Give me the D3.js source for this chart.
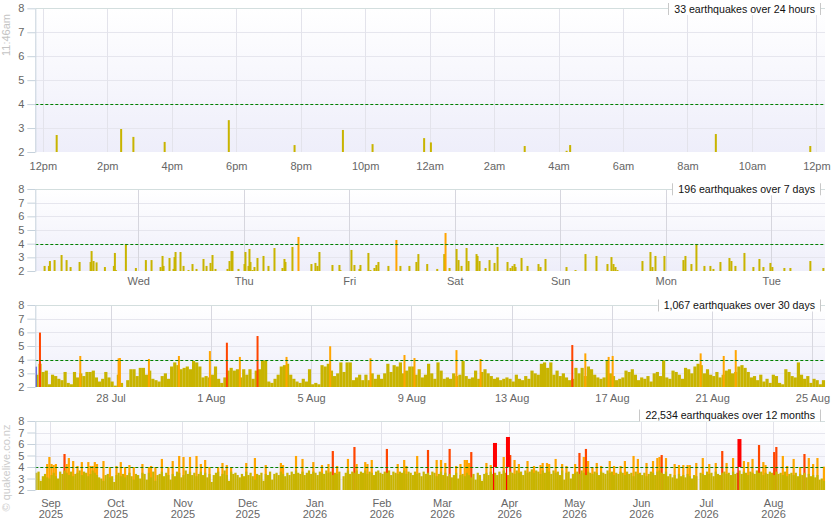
<!DOCTYPE html>
<html><head><meta charset="utf-8">
<script src="https://cdn.jsdelivr.net/npm/d3@7/dist/d3.min.js"></script>
<style>
html,body{margin:0;padding:0;background:#fff;}
svg text{font-family:"Liberation Sans",Arial,Helvetica,sans-serif;}
</style></head><body>
<svg id="chart" width="835" height="530"></svg>
<script>
// ================= DATA =================
const panelTitles=["33 earthquakes over 24 hours","196 earthquakes over 7 days","1,067 earthquakes over 30 days","22,534 earthquakes over 12 months"];
const nowLabel="11:46am";
const creditLabel="\u00a9 quakelive.co.nz";
const magTicks=[2,3,4,5,6,7,8];

// 24 hours (hours after 12:00 on 24 Aug 2026)
const dayTickLabels=["12pm","2pm","4pm","6pm","8pm","10pm","12am","2am","4am","6am","8am","10am","12pm"];
const dayQuakeHours=[0.43,2.43,2.81,3.78,5.77,7.81,9.31,10.23,11.83,12.04,14.95,16.25,16.36,20.88,23.81];
const dayQuakeMags=[2.71,2.96,2.63,2.42,3.33,2.29,2.92,2.33,2.58,2.40,2.25,2.05,2.29,2.75,2.25];

// 7 days (hours after 00:00 on 18 Aug 2026)
const weekTickLabels=["Wed","Thu","Fri","Sat","Sun","Mon","Tue"];
const weekQuakeHours=[2.70,3.68,3.91,4.97,6.56,7.70,8.61,10.66,13.16,13.39,13.84,14.52,16.42,18.46,18.69,18.92,21.19,23.47,25.74,27.03,29.08,29.53,29.76,31.12,32.03,32.26,32.49,33.62,34.31,35.44,36.35,37.26,38.85,39.54,40.45,40.90,41.58,44.31,44.77,45.22,45.45,46.81,48.18,48.40,49.09,49.31,49.54,50.00,50.45,51.13,52.50,53.63,55.00,56.82,57.27,57.50,59.09,60.46,63.41,64.32,64.78,65.23,68.19,69.78,70.01,72.51,73.19,74.33,74.56,76.37,76.83,77.74,78.19,78.65,80.92,82.74,83.65,85.70,87.29,87.74,
89.75,92.03,93.62,93.92,94.83,96.43,96.88,97.56,98.70,99.15,100.97,101.20,101.66,103.02,103.93,105.07,105.75,108.02,108.70,109.16,109.61,109.84,111.21,112.57,115.07,115.53,116.66,121.44,123.49,125.76,128.26,130.76,131.67,132.13,132.58,133.04,138.72,140.54,141.00,141.68,143.72,148.04,148.50,149.86,151.00,152.82,154.18,154.87,156.46,158.51,158.96,159.87,161.92,163.96,165.33,166.24,167.83,168.28,171.01,172.38,176.92,179.88];
const weekQuakeMags=[2.37,2.37,2.73,2.80,3.17,2.80,2.29,2.66,2.66,3.46,2.73,2.63,2.29,2.37,3.32,2.07,3.98,2.22,2.80,2.80,2.29,3.10,2.37,2.95,2.15,3.02,3.39,3.39,2.37,2.07,2.51,2.15,2.88,2.37,2.59,3.17,2.15,2.15,2.73,3.46,3.46,2.15,2.51,3.39,2.37,3.61,2.66,2.07,2.29,2.95,3.10,2.37,3.68,2.22,2.88,2.66,3.76,4.49,2.51,2.59,2.37,3.39,2.44,2.44,2.07,3.54,2.44,2.15,2.44,3.32,2.07,2.22,2.44,2.66,2.37,4.27,2.37,2.37,2.66,3.24,
2.51,2.15,3.24,4.78,2.22,3.61,2.80,2.37,3.68,2.73,3.24,3.10,2.73,2.22,2.80,2.59,3.76,2.66,2.22,2.37,2.51,2.29,2.95,2.37,2.51,2.29,2.88,2.29,2.07,3.24,3.10,2.51,3.02,2.51,2.29,2.07,2.73,3.39,2.29,3.10,3.10,2.80,3.10,2.51,3.98,2.37,2.37,2.15,2.66,2.95,2.73,2.37,3.32,2.29,2.88,2.29,2.59,2.29,2.22,2.22,2.73,2.22];

// 30 days: largest quake below M4 in each 3-hour block from 00:00 25 Jul 2026
const monthTickLabels=["28 Jul","1 Aug","5 Aug","9 Aug","13 Aug","17 Aug","21 Aug","25 Aug"];
const monthBinMags=[2.9,3.7,3.1,3.2,2.2,2.9,2.8,2.6,2.5,3.1,
2.3,2.2,3.1,2.7,3.0,2.8,3.1,3.1,3.2,2.7,
2.4,2.6,3.1,2.7,2.4,2.1,2.9,2.3,2.0,2.5,
3.3,3.3,2.8,3.4,3.4,2.9,3.2,2.6,2.5,2.4,
2.8,3.0,2.6,3.5,3.8,3.6,3.3,3.4,3.5,3.3,
3.9,3.8,3.5,2.7,2.8,2.7,2.9,3.5,2.6,2.3,
2.7,3.2,3.4,3.2,3.3,2.7,3.3,2.9,3.3,2.6,
3.2,3.3,3.95,3.95,2.4,2.3,2.6,2.9,3.5,3.6,
3.7,2.9,2.6,2.4,2.3,2.6,2.4,3.3,2.2,2.3,
2.2,3.6,3.5,3.7,3.2,2.8,3.0,3.8,3.1,3.8,
3.8,2.5,2.7,2.9,2.5,2.9,2.5,3.0,2.6,2.9,
2.6,3.0,3.7,3.1,3.6,3.5,3.8,3.0,3.2,3.5,
3.5,2.9,3.3,2.7,2.9,3.7,3.0,2.6,3.8,3.2,
2.6,2.7,2.6,3.0,2.8,2.9,3.9,2.8,2.6,2.7,
3.2,2.6,3.1,3.3,3.0,2.8,2.6,2.7,2.5,2.6,
2.7,2.6,2.4,2.9,2.6,2.5,2.8,2.6,3.2,3.0,
2.9,3.7,3.8,3.4,3.8,2.9,3.2,2.8,3.0,2.7,
2.5,2.6,3.4,3.0,3.4,2.8,3.5,3.3,2.9,2.7,
2.6,2.7,3.9,3.0,2.8,2.5,2.6,2.7,3.2,3.1,
3.3,2.9,2.5,2.7,2.6,2.8,2.4,3.0,3.1,2.8,
3.95,2.7,2.6,3.2,3.1,2.9,2.6,3.4,3.3,3.0,
3.5,3.7,3.6,3.0,3.3,2.9,2.8,3.1,2.7,2.9,
3.2,3.3,3.0,3.1,3.5,3.6,3.4,3.1,2.7,2.8,
2.5,2.9,2.4,2.6,2.3,2.9,2.8,2.3,2.2,3.3,
3.1,2.8,2.7,3.8,2.9,2.6,2.8,2.3,2.6,2.5,
2.2,2.5];
// 30 days: quakes of M4 and above (days after 00:00 25 Jul 2026)
const monthBigDays=[0.186,1.794,3.323,3.376,4.532,5.728,6.964,7.642,8.160,8.865,10.021,11.762,13.370,14.726,15.125,16.80,17.76,21.42,21.94,22.87,23.03,26.54,27.46,27.94];
const monthBigMags=[5.98,4.27,4.10,4.12,4.05,4.27,4.63,5.24,4.20,5.73,4.20,4.98,4.10,4.34,4.12,4.70,4.05,5.07,4.46,4.20,4.27,4.46,4.27,4.70];
const monthMarkDays=[0.0];
const monthMarkMags=[3.49];

// 12 months: largest quake below M4 each day from 25 Aug 2025 (null = no data)
const yearTickLabels=["Sep 2025","Oct 2025","Nov 2025","Dec 2025","Jan 2026","Feb 2026","Mar 2026","Apr 2026","May 2026","Jun 2026","Jul 2026","Aug 2026"];
const yearDailyMags=[3.5,3.6,2.8,3.2,3.4,3.1,3.0,3.3,3.5,3.2,
3.0,3.6,3.4,3.7,3.5,3.3,3.6,3.2,3.4,3.5,
3.7,3.3,3.6,3.5,3.2,3.4,3.7,3.5,3.3,3.1,
3.0,2.8,3.3,3.4,3.1,3.2,2.7,3.3,3.5,3.2,
3.4,3.1,3.3,3.5,3.2,2.9,3.4,3.3,3.0,3.5,
3.4,2.9,3.5,3.1,3.6,2.8,3.3,3.4,3.6,3.2,
3.5,3.3,2.9,3.4,3.2,3.6,3.5,3.1,3.3,3.7,
3.4,3.6,3.3,3.5,3.2,3.4,3.6,3.3,3.5,3.1,
3.4,2.7,3.3,3.5,3.6,3.2,3.4,3.7,3.3,2.8,
3.6,3.4,3.5,3.3,3.1,3.4,3.2,3.6,3.3,3.5,
3.2,2.9,3.4,3.3,3.5,2.8,3.4,3.3,3.6,2.9,
3.4,3.5,3.3,3.6,3.4,3.2,3.5,3.3,3.6,3.4,
3.7,3.5,3.4,3.6,3.3,3.5,3.7,3.4,3.6,3.5,
3.3,3.6,3.5,3.4,3.7,3.5,3.6,3.3,3.5,3.4,
3.6,null,3.2,3.5,3.7,3.4,3.6,3.5,3.7,3.4,
3.6,3.5,3.7,3.4,3.6,3.5,3.3,3.6,3.7,3.5,
3.4,3.6,3.5,3.7,3.3,3.6,3.5,3.4,3.6,3.5,
3.7,3.4,3.6,3.5,3.3,3.6,3.4,3.5,3.2,3.6,
3.4,3.5,3.3,3.6,3.5,3.2,3.4,3.6,3.3,3.5,
3.2,3.4,3.1,3.3,3.5,3.0,3.3,3.4,3.2,3.5,
3.3,3.1,3.4,2.9,3.5,3.3,2.8,3.4,3.5,3.3,
3.6,3.4,3.5,3.3,3.6,3.4,3.7,3.5,3.3,3.6,
3.5,3.4,3.7,3.5,3.6,3.3,3.7,3.5,3.6,3.8,
3.5,3.7,3.6,3.4,3.7,3.5,3.8,3.6,3.4,3.7,
3.5,3.6,3.3,3.7,2.9,3.5,3.6,3.0,3.4,3.5,
3.6,3.4,3.7,3.5,3.3,3.6,3.5,3.4,3.6,3.5,
3.3,3.6,3.5,3.4,3.7,3.5,3.6,3.3,3.5,3.4,
3.6,3.5,3.3,3.6,3.4,3.5,3.2,3.6,3.4,3.5,
3.3,3.5,3.2,3.4,3.6,3.5,3.3,3.6,3.7,3.5,
3.4,3.6,3.2,3.4,3.1,3.3,3.0,3.4,3.2,3.3,
3.1,3.4,3.2,3.0,3.3,3.2,null,3.5,3.4,3.3,
3.6,3.4,3.5,3.2,3.6,3.4,3.3,3.5,3.6,3.4,
3.5,3.3,3.6,3.4,3.5,3.7,3.4,3.6,3.5,3.3,
3.6,3.5,3.4,3.7,3.5,3.6,3.3,3.5,3.4,3.6,
3.5,3.3,3.6,3.4,3.5,3.3,3.6,3.2,3.4,3.5,
3.3,3.5,3.2,3.4,3.3,3.5,3.1,3.4,3.2,3.3,
3.1,3.3,2.9,3.0,2.8];
// 12 months: largest quake of M4 and above on a day (day index from 25 Aug 2025)
const yearBigDays=[5,6,7,8,9,13,14,15,17,19,21,24,25,26,27,28,31,34,37,39,41,43,45,49,52,53,55,58,61,63,66,68,71,74,76,78,80,84,86,88,90,
97,101,106,113,114,120,123,128,132,135,137,139,144,147,148,152,153,155,162,167,170,171,176,181,
185,187,189,191,194,196,198,199,200,201,208,210,212,216,218,219,221,223,227,230,233,234,236,237,240,243,245,249,251,253,254,255,257,259,261,265,267,270,272,
276,278,282,285,287,288,289,291,295,297,299,301,302,305,308,311,314,317,319,322,325,327,329,331,334,336,337,341,342,345,347,350,353,355,357,359,361,364];
const yearBigMags=[4.26,4.87,4.26,4.17,4.26,5.13,4.26,4.78,4.52,4.09,4.43,4.43,4.09,4.09,4.43,4.26,4.52,4.0,4.09,4.43,4.0,4.17,4.0,4.26,4.0,4.09,4.0,4.7,4.0,4.52,4.96,4.87,4.87,4.96,4.26,4.61,4.0,4.0,4.35,4.17,4.0,
4.35,4.78,4.17,4.35,4.17,4.96,4.7,4.43,4.17,4.26,5.39,4.09,4.7,5.74,4.26,4.43,4.26,4.61,5.57,4.26,4.61,4.09,4.96,5.48,
4.61,4.61,4.35,5.57,4.09,4.26,4.61,4.61,4.35,5.3,4.35,4.17,6.09,4.87,6.61,5.04,4.61,4.26,4.52,4.09,4.17,4.35,4.35,4.26,4.7,4.26,4.09,4.26,5.22,4.87,5.57,4.52,4.0,4.35,4.09,4.52,4.09,4.09,4.52,
4.96,4.7,4.35,4.52,4.78,4.87,5.04,4.78,4.26,4.17,4.17,4.17,4.17,4.35,4.78,4.26,4.35,5.39,4.35,4.78,6.43,4.52,4.43,4.7,5.91,4.43,4.17,5.3,5.74,4.96,4.09,4.7,4.0,5.13,4.78,4.26,4.78,4.03];

// ================= DRAWING =================
const L=35.3, R=825;
const HOUR=3600e3, DAY=86400e3;
const T=(y,m,d,h=0,mi=0)=>new Date(Date.UTC(y,m,d,h,mi));
const COL={minor:'#c8b400',m4:'#ffa500',m5:'#ff4500',m6:'#ff0000'};
const colour=m=>m>=6?COL.m6:m>=5?COL.m5:m>=4?COL.m4:COL.minor;
const svg=d3.select('#chart');
const grad=svg.append('defs').append('linearGradient').attr('id','bg').attr('x1',0).attr('y1',0).attr('x2',0).attr('y2',1);
grad.append('stop').attr('offset','0%').attr('stop-color','#ffffff');
grad.append('stop').attr('offset','100%').attr('stop-color','#eeeefa');
const px=v=>Math.round(v)+0.5;

function panel(o){
  const y=d3.scaleLinear().domain([2,8]).range([o.bottom,o.top]);
  const g=svg.append('g');
  g.append('rect').attr('x',L).attr('y',o.top).attr('width',R-L).attr('height',o.bottom-o.top).attr('fill','url(#bg)');
  g.append('g').selectAll('line').data([3,4,5,6,7]).join('line')
    .attr('x1',L).attr('x2',R).attr('y1',d=>px(y(d))).attr('y2',d=>px(y(d)))
    .attr('stroke','#e6e6ee');
  g.append('g').selectAll('line').data(o.ticks).join('line')
    .attr('x1',d=>px(o.x(d))).attr('x2',d=>px(o.x(d)))
    .attr('y1',o.top).attr('y2',o.bottom).attr('stroke',o.vgrid);
  const marks=g.append('g');
  return {o,y,g,marks};
}
function finish(p){
  const {o,y,g}=p;
  g.append('line').attr('x1',L).attr('x2',R).attr('y1',px(y(4))).attr('y2',px(y(4)))
    .attr('stroke','#008000').attr('stroke-width',1).attr('stroke-dasharray','3,2');
  g.append('line').attr('x1',L).attr('x2',R).attr('y1',px(o.top)).attr('y2',px(o.top)).attr('stroke','#d3dede');
  const ay=g.append('g').attr('transform',`translate(${L},0)`)
    .call(d3.axisLeft(y).tickValues(magTicks).tickSize(8).tickSizeOuter(0).tickPadding(3).tickFormat(d3.format('d')));
  ay.select('.domain').attr('stroke','#c6d2dc');
  ay.selectAll('.tick line').attr('stroke','#c6d2dc');
  ay.selectAll('.tick text').attr('fill','#666').attr('font-size','11px');
  const ax=g.append('g').attr('transform',`translate(0,${o.bottom})`)
    .call(d3.axisBottom(o.x).tickValues(o.ticks).tickSize(0).tickPadding(o.pad).tickFormat((d,i)=>o.labels[i]));
  ax.select('.domain').remove();
  ax.selectAll('.tick text').attr('fill','#666').attr('font-size','11px');
  // title box
  const t=g.append('g');
  const tx=t.append('text').attr('x',815).attr('y',o.titleY).attr('dy','0.35em').attr('text-anchor','end')
    .attr('font-size','10.6px').attr('fill','#111').text(o.title);
  const w=tx.node().getComputedTextLength();
  const x0=815-w-6;
  t.insert('rect','text').attr('x',x0).attr('y',o.titleY-6).attr('width',820-x0).attr('height',12).attr('fill','#fff');
  t.selectAll('line.sep').data([x0,820]).join('line').attr('class','sep')
    .attr('x1',d=>px(d)).attr('x2',d=>px(d)).attr('y1',o.titleY-6).attr('y2',o.titleY+6).attr('stroke','#c8c8c8');
  return ax;
}

// ---------- panel 1: 24 hours ----------
{
  const start=T(2026,7,24,12,0);
  const x=d3.scaleTime().domain([T(2026,7,24,11,46),T(2026,7,25,12,16)]).range([L,R]);
  const ticks=dayTickLabels.map((_,i)=>new Date(+start+i*2*HOUR));
  const p=panel({top:8.3,bottom:152,x,ticks,labels:dayTickLabels,vgrid:'#e3e3eb',pad:10,title:panelTitles[0],titleY:9});
  const data=dayQuakeHours.map((h,i)=>({t:new Date(+start+h*HOUR),m:dayQuakeMags[i]}));
  p.marks.selectAll('rect').data(data).join('rect')
    .attr('x',d=>x(d.t)-1).attr('width',2).attr('y',d=>p.y(d.m)).attr('height',d=>p.y(2)-p.y(d.m)).attr('fill',d=>colour(d.m));
  finish(p);
}
// ---------- panel 2: 7 days ----------
{
  const start=T(2026,7,18,0,0);
  const x=d3.scaleTime().domain([T(2026,7,18,0,35),T(2026,7,25,12,15)]).range([L,R]);
  const ticks=weekTickLabels.map((_,i)=>new Date(+T(2026,7,19)+i*DAY));
  const p=panel({top:189,bottom:271,x,ticks,labels:weekTickLabels,vgrid:'#d6d6de',pad:6,title:panelTitles[1],titleY:189.3});
  const data=weekQuakeHours.map((h,i)=>({t:new Date(+start+h*HOUR),m:weekQuakeMags[i]}));
  p.marks.selectAll('rect').data(data).join('rect')
    .attr('x',d=>x(d.t)-1).attr('width',2).attr('y',d=>p.y(d.m)).attr('height',d=>p.y(2)-p.y(d.m)).attr('fill',d=>colour(d.m));
  finish(p);
}
// ---------- panel 3: 30 days ----------
{
  const start=T(2026,6,25);
  const x=d3.scaleTime().domain([start,T(2026,7,25,12)]).range([L,R]);
  const ticks=monthTickLabels.map((_,i)=>new Date(+T(2026,6,28)+i*4*DAY));
  const p=panel({top:305,bottom:387,x,ticks,labels:monthTickLabels,vgrid:'#d8d8e0',pad:7,title:panelTitles[2],titleY:305.5});
  const bw=x(new Date(+start+3*HOUR))-x(start);
  p.marks.append('g').selectAll('rect').data(monthBinMags).join('rect')
    .attr('x',(d,i)=>x(new Date(+start+i*3*HOUR))).attr('width',bw+0.05)
    .attr('y',d=>p.y(d)).attr('height',d=>p.y(2)-p.y(d)).attr('fill',COL.minor);
  const big=monthBigDays.map((d,i)=>({t:new Date(+start+d*DAY),m:monthBigMags[i]}));
  p.marks.append('g').selectAll('rect').data(big).join('rect')
    .attr('x',d=>x(d.t)-1).attr('width',2).attr('y',d=>p.y(d.m)).attr('height',d=>p.y(2)-p.y(d.m)).attr('fill',d=>colour(d.m));
  const mk=monthMarkDays.map((d,i)=>({t:new Date(+start+d*DAY),m:monthMarkMags[i]}));
  p.marks.append('g').selectAll('rect').data(mk).join('rect')
    .attr('x',d=>x(d.t)).attr('width',1.5).attr('y',d=>p.y(d.m)).attr('height',d=>p.y(2)-p.y(d.m)).attr('fill','#2020e0');
  finish(p);
}
// ---------- panel 4: 12 months ----------
{
  const start=T(2025,7,25);
  const x=d3.scaleTime().domain([start,T(2026,7,25)]).range([L,R]);
  const ticks=yearTickLabels.map((_,i)=>T(2025,8+i,1));
  const p=panel({top:421,bottom:490,x,ticks,labels:yearTickLabels,vgrid:'#e2e2ea',pad:8.7,title:panelTitles[3],titleY:415.5});
  const dw=x(new Date(+start+DAY))-x(start);
  const dayX=i=>x(new Date(+start+i*DAY));
  const big=yearBigDays.map((d,i)=>({d,m:yearBigMags[i]}));
  // M4-M6 columns (behind the daily minor column)
  p.marks.append('g').selectAll('rect').data(big.filter(d=>d.m<6)).join('rect')
    .attr('x',d=>dayX(d.d)).attr('width',2.2).attr('y',d=>p.y(d.m)).attr('height',d=>p.y(2)-p.y(d.m)).attr('fill',d=>colour(d.m));
  // daily minor column
  p.marks.append('g').selectAll('rect').data(yearDailyMags.map((m,i)=>({i,m})).filter(d=>d.m!=null)).join('rect')
    .attr('x',d=>dayX(d.i)).attr('width',dw+0.05).attr('y',d=>p.y(d.m)).attr('height',d=>p.y(2)-p.y(d.m)).attr('fill',COL.minor);
  // M6+ quakes on top
  const g6=p.marks.append('g').selectAll('g').data(big.filter(d=>d.m>=6)).join('g');
  g6.append('rect').attr('x',d=>dayX(d.d)-1).attr('width',4).attr('y',d=>p.y(d.m)).attr('height',d=>p.y(4)-p.y(d.m)).attr('fill',COL.m6);
  g6.append('rect').attr('x',d=>dayX(d.d)-1).attr('width',1.2).attr('y',d=>p.y(4)).attr('height',d=>p.y(2)-p.y(4)).attr('fill',COL.m6);
  const ax=finish(p);
  ax.selectAll('.tick text').each(function(d,i){
    const parts=yearTickLabels[i].split(' ');
    const t=d3.select(this).attr('dy',null).text(null);
    t.append('tspan').attr('x',0).attr('dy','0.71em').text(parts[0]);
    t.append('tspan').attr('x',0).attr('dy','1.05em').text(parts[1]);
  });
}
// side labels
svg.append('text').attr('transform','translate(10,35) rotate(-90)').attr('text-anchor','middle')
  .attr('font-size','11px').attr('fill','#c4c4c4').text(nowLabel);
svg.append('text').attr('transform','translate(10,468) rotate(-90)').attr('text-anchor','middle')
  .attr('font-size','11px').attr('fill','#cccccc').text(creditLabel);
</script>
</body></html>
